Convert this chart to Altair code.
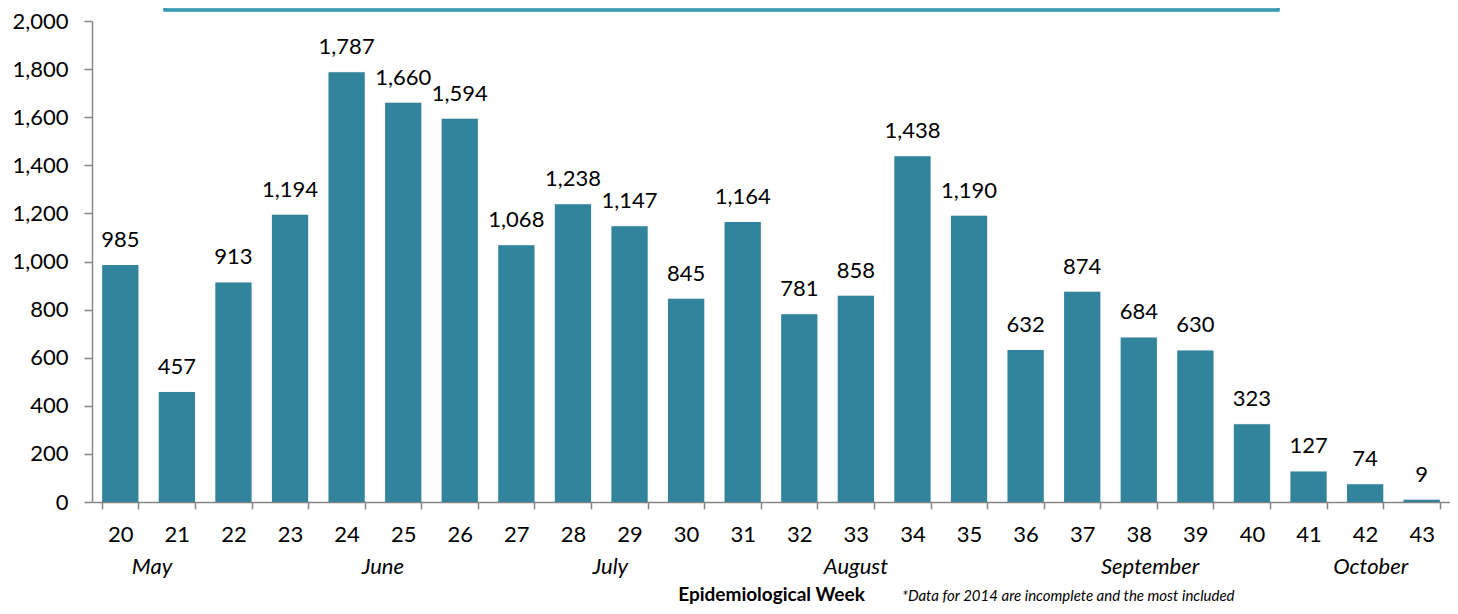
import altair as alt
import pandas as pd

weeks = list(range(20, 44))
cases = [985, 457, 913, 1194, 1787, 1660, 1594, 1068, 1238, 1147, 845, 1164,
         781, 858, 1438, 1190, 632, 874, 684, 630, 323, 127, 74, 9]
months = ["May", "June", "July", "August", "September", "October"]
month_pos = [20.56, 24.64, 28.66, 33.0, 38.2, 42.1]
footnote = "*Data for 2014 are incomplete and the most included"

df = pd.DataFrame({"week": weeks, "cases": cases})
mdf = pd.DataFrame({"month": months, "pos": month_pos})

W, H = 1358, 481
FONT = "Lato"
FS = 22
TEAL = "#31849B"
AX = "#868686"

xenc = alt.X("week:O", title="Epidemiological Week",
             scale=alt.Scale(paddingInner=0.36, paddingOuter=0.18),
             axis=alt.Axis(labelAngle=0, tickBand="extent", domainColor=AX,
                           tickColor=AX, tickSize=7, domainWidth=1.5, tickWidth=1.5,
                           labelFont=FONT, labelFontSize=FS, labelColor="black",
                           labelPadding=15, titleFont=FONT, titleFontSize=19,
                           titleFontWeight="bold", titleColor="black",
                           titlePadding=40))
yenc = alt.Y("cases:Q", title=None,
             scale=alt.Scale(domain=[0, 2000], nice=False),
             axis=alt.Axis(values=list(range(0, 2001, 200)), format=",d",
                           formatType="number",
                           domainColor=AX, tickColor=AX, tickSize=8,
                           domainWidth=1.5, tickWidth=1.5, grid=False,
                           labelFont=FONT, labelFontSize=FS, labelColor="black",
                           labelPadding=16))

base = alt.Chart(df)
shadow = base.mark_bar(color="#000000", opacity=0.10, stroke="#000000",
                       strokeOpacity=0.10, strokeWidth=4).encode(x=xenc, y=yenc)
bars = base.mark_bar(color=TEAL).encode(x=xenc, y=yenc)
labels = base.mark_text(font=FONT, fontSize=FS, color="black", baseline="bottom",
                        dy=-13).encode(x=xenc, y=yenc,
                                       text=alt.Text("cases:Q", format=","))
main = alt.layer(shadow, bars, labels)

month_layer = alt.Chart(mdf).mark_text(font=FONT, fontSize=FS, fontStyle="italic",
                                       color="black", baseline="middle").encode(
    x=alt.X("pos:Q", scale=alt.Scale(domain=[19.5, 43.5], nice=False, zero=False),
            axis=None),
    y=alt.value(H + 65),
    text="month:N")

box = alt.Chart(mdf).mark_rect(fill=None, stroke="#3C9BB4", strokeWidth=2.5).encode(
    x=alt.value(73), x2=alt.value(1186), y=alt.value(-60), y2=alt.value(-11))

foot = alt.Chart(pd.DataFrame({"t": [footnote]})).mark_text(
    font=FONT, fontSize=15, fontStyle="italic", color="black", align="left",
    baseline="bottom").encode(x=alt.value(810), y=alt.value(H + 102), text="t:N")

chart = alt.layer(box, main, month_layer, foot).resolve_scale(
    x="independent").properties(
    width=W, height=H,
    autosize=alt.AutoSizeParams(type="none"),
    padding={"left": 84, "top": 13, "right": 0, "bottom": 104}
).configure_view(stroke=None)

chart.save("out.html", embed_options={"renderer": "svg", "actions": False})
